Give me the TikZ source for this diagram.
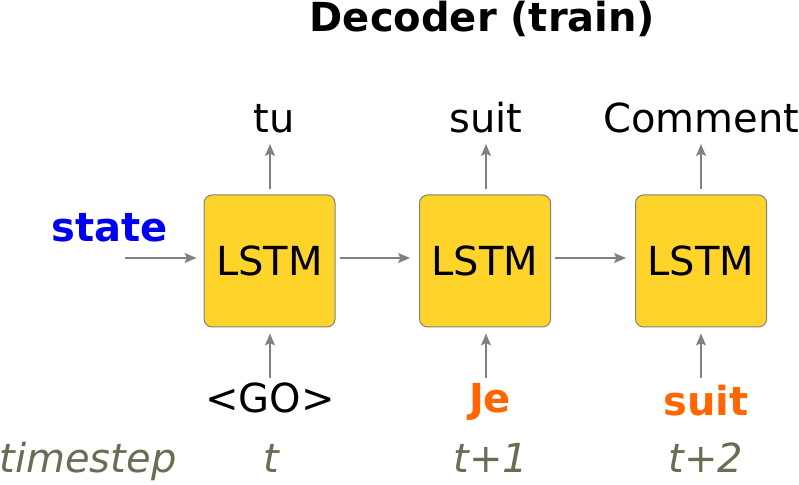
\documentclass[tikz,border=0pt]{standalone}
\usepackage{fontspec}
\setmainfont{DejaVu Sans}
\usetikzlibrary{arrows.meta}
\definecolor{boxfill}{HTML}{FFD42A}
\definecolor{boxline}{HTML}{808080}
\definecolor{arrgray}{HTML}{808080}
\definecolor{stateblue}{HTML}{0000F0}
\definecolor{inorange}{HTML}{FF6600}
\definecolor{tsgray}{HTML}{6C6C55}
\tikzset{
  lstm/.style={draw=boxline, line width=1pt, fill=boxfill, rounded corners=8pt,
    minimum width=131pt, minimum height=132pt, inner sep=0pt,
    font=\fontsize{40}{48}\selectfont},
  txt/.style={anchor=base, inner sep=0pt, font=\fontsize{40}{48}\selectfont},
  btxt/.style={txt, font=\fontsize{40}{48}\selectfont\bfseries},
  itxt/.style={txt, text=tsgray, font=\fontsize{40}{48}\selectfont\itshape},
  arr/.style={draw=arrgray, line width=1.3pt, -{Stealth[length=12pt,width=10pt,inset=2.5pt]}},
}
\begin{document}
\begin{tikzpicture}[x=1pt,y=1pt]
\useasboundingbox (0,0) rectangle (799,484);
% title
\node[btxt] (title) at (482.5,452) {Decoder (train)};
% LSTM boxes
\node[lstm] (L1) at (269.5,223) {LSTM};
\node[lstm] (L2) at (485,223) {LSTM};
\node[lstm] (L3) at (701,223) {LSTM};
% outputs
\node[txt] (o1) at (274,351) {tu};
\node[txt] (o2) at (486,351) {suit};
\node[txt] (o3) at (701.5,351) {Comment};
% state
\node[btxt, text=stateblue] (st) at (109.5,242) {state};
% inputs
\node[txt] (i1) at (270,71) {<GO>};
\node[btxt, text=inorange] (i2) at (490,71) {Je};
\node[btxt, text=inorange] (i3) at (706,69) {suit};
% timesteps
\node[itxt] (ts) at (88,12) {timestep};
\node[itxt] (t0) at (271,12) {t};
\node[itxt] (t1) at (491,12) {t+1};
\node[itxt] (t2) at (706,12) {t+2};
% connector ends
\coordinate (s0) at (125,226);
\coordinate (u1) at (270,340);
\coordinate (u2) at (486,340);
\coordinate (u3) at (701,340);
\coordinate (d1) at (270,106);
\coordinate (d2) at (486,106);
\coordinate (d3) at (701,106);
% horizontal
\draw[arr, shorten >=7pt] (s0) -- (s0 -| L1.west);
\draw[arr, shorten <=4pt, shorten >=9pt] (s0 -| L1.east) -- (s0 -| L2.west);
\draw[arr, shorten <=4pt, shorten >=9pt] (s0 -| L2.east) -- (s0 -| L3.west);
% up to outputs
\draw[arr, shorten <=5pt] (u1 |- L1.north) -- (u1);
\draw[arr, shorten <=5pt] (u2 |- L2.north) -- (u2);
\draw[arr, shorten <=5pt] (u3 |- L3.north) -- (u3);
% inputs up
\draw[arr, shorten >=6pt] (d1) -- (d1 |- L1.south);
\draw[arr, shorten >=6pt] (d2) -- (d2 |- L2.south);
\draw[arr, shorten >=6pt] (d3) -- (d3 |- L3.south);
\end{tikzpicture}
\end{document}
